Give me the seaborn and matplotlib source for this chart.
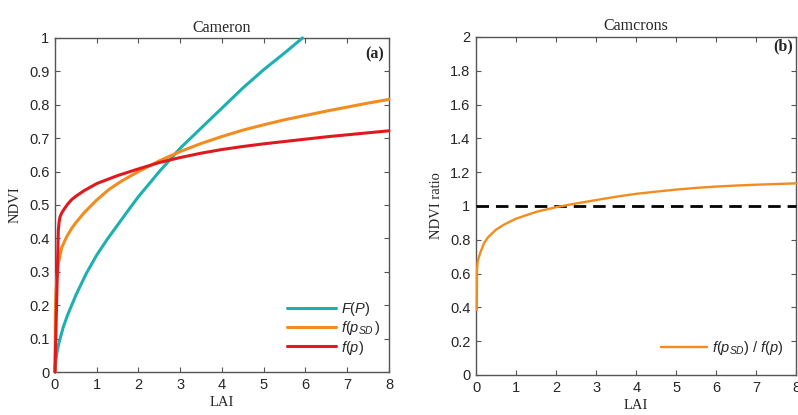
import matplotlib
matplotlib.use("Agg")
import matplotlib.pyplot as plt
import seaborn as sns
import numpy as np
from matplotlib.ticker import FuncFormatter, MultipleLocator

# ---------------- data ----------------
lai_FP = [0, 0.02, 0.05, 0.1, 0.2, 0.3, 0.5, 0.75, 1.0, 1.25, 1.5, 1.75, 2.0,
          2.5, 3.0, 3.5, 4.0, 4.5, 5.0, 5.5, 5.93]
ndvi_FP = [0, 0.035, 0.06, 0.09, 0.135, 0.17, 0.23, 0.295, 0.35, 0.397, 0.44,
           0.483, 0.525, 0.60, 0.67, 0.73, 0.79, 0.85, 0.905, 0.955, 1.0]

lai_fpsd = [0, 0.01, 0.02, 0.04, 0.08, 0.16, 0.28, 0.4, 0.5, 0.7, 1.0, 1.3,
            1.6, 2.0, 2.5, 3.0, 3.5, 4.0, 4.5, 5.0, 5.5, 6.0, 6.5, 7.0, 7.5, 8.0]
ndvi_fpsd = [0, 0.18, 0.23, 0.275, 0.324, 0.372, 0.405, 0.43, 0.447, 0.477,
             0.515, 0.547, 0.572, 0.600, 0.632, 0.66, 0.684, 0.705, 0.724,
             0.74, 0.755, 0.768, 0.781, 0.793, 0.805, 0.816]

lai_fp = [0, 0.08, 0.1, 0.12, 0.16, 0.2, 0.3, 0.4, 0.5, 0.7, 1.0, 1.5, 2.0,
          2.5, 3.0, 3.5, 4.0, 4.5, 5.0, 5.5, 6.0, 6.5, 7.0, 7.5, 8.0]
ndvi_fp = [0, 0.425, 0.45, 0.464, 0.476, 0.484, 0.502, 0.516, 0.526, 0.543,
           0.564, 0.588, 0.608, 0.627, 0.642, 0.655, 0.666, 0.675, 0.683,
           0.69, 0.697, 0.704, 0.71, 0.716, 0.722]

lai_ratio = [0.02, 0.025, 0.04, 0.1, 0.2, 0.3, 0.5, 0.7, 1.0, 1.5, 2.0, 2.5,
             3.0, 3.5, 4.0, 4.5, 5.0, 5.5, 6.0, 6.5, 7.0, 7.5, 8.0]
ndvi_ratio = [0.385, 0.62, 0.67, 0.72, 0.78, 0.815, 0.86, 0.89, 0.925, 0.965,
              0.993, 1.015, 1.035, 1.055, 1.072, 1.085, 1.097, 1.107, 1.115,
              1.121, 1.126, 1.13, 1.134]

ref_level = [1.0, 1.0]
ref_lai = [0, 8]

# ---------------- style ----------------
sns.set_style("white")
plt.rcParams['font.family'] = ['Liberation Sans', 'DejaVu Sans']
plt.rcParams['mathtext.fontset'] = 'custom'
plt.rcParams['mathtext.rm'] = 'Liberation Sans'
plt.rcParams['mathtext.it'] = 'Liberation Sans:italic'

TEAL = '#1DB0B0'
ORANGE = '#F28C1E'
RED = '#E0191E'
SPINE = '#555555'
TXT = '#262626'

fig = plt.figure(figsize=(7.98, 4.15), dpi=100)
axL = fig.add_axes([0.0689, 0.1036, 0.4185, 0.805])
axR = fig.add_axes([0.5965, 0.0964, 0.4016, 0.8145])

kw = dict(estimator=None, sort=False, zorder=3)
sns.lineplot(x=lai_FP, y=ndvi_FP, ax=axL, color=TEAL, lw=2.2,
             label=r'$F(P)$', **kw)
sns.lineplot(x=lai_fpsd, y=ndvi_fpsd, ax=axL, color=ORANGE, lw=2.2,
             label=r'$f(p_{SD}\,)$', **kw)
sns.lineplot(x=lai_fp, y=ndvi_fp, ax=axL, color=RED, lw=2.2,
             label=r'$f(p)$', **kw)

sns.lineplot(x=ref_lai, y=ref_level, ax=axR, color='black', lw=2.0,
             linestyle=(0, (4.5, 2.5)), **kw)
sns.lineplot(x=lai_ratio, y=ndvi_ratio, ax=axR, color=ORANGE, lw=1.7,
             label=r'$f(p_{SD})\ /\ f(p)$', **kw)

for ax in (axL, axR):
    for ln in ax.get_lines():
        ln.set_clip_on(False)

fmt = FuncFormatter(lambda v, p: '%g' % round(v, 6))
serif = ['Liberation Serif', 'DejaVu Serif']

for ax, ymax, ystep in [(axL, 1.0, 0.1), (axR, 2.0, 0.2)]:
    ax.set_xlim(0, 8)
    ax.set_ylim(0, ymax)
    ax.xaxis.set_major_locator(MultipleLocator(1))
    ax.yaxis.set_major_locator(MultipleLocator(ystep))
    ax.xaxis.set_major_formatter(fmt)
    ax.yaxis.set_major_formatter(fmt)
    ax.tick_params(direction='in', length=3.5, width=0.8, colors=SPINE,
                   labelcolor=TXT, labelsize=10.5, top=True, right=True,
                   bottom=True, left=True, pad=4)
    for s in ax.spines.values():
        s.set_color(SPINE)
        s.set_linewidth(1.0)
    ax.set_xlabel('LAI', family=serif, fontsize=10.5, color=TXT, labelpad=3)

axL.set_ylabel('NDVI', family=serif, fontsize=10.5, color=TXT, labelpad=5)
axR.set_ylabel('NDVI ratio', family=serif, fontsize=10.5, color=TXT, labelpad=5)
axL.set_title('Cameron', family=serif, fontsize=11.5, color=TXT, pad=4)
axR.set_title('Camcrons', family=serif, fontsize=11.5, color=TXT, pad=5)

axL.text(0.985, 0.95, '(a)', transform=axL.transAxes, ha='right', va='center',
         family=serif, fontweight='bold', fontsize=11.5)
axR.text(0.99, 0.972, '(b)', transform=axR.transAxes, ha='right', va='center',
         family=serif, fontweight='bold', fontsize=11.5)

axL.legend(loc='lower right', bbox_to_anchor=(1.0, 0.02), frameon=False,
           fontsize=10.5, handlelength=3.4, handletextpad=0.3, labelspacing=0.1,
           borderaxespad=0.2)
axR.legend(loc='lower right', bbox_to_anchor=(1.0, 0.015), frameon=False,
           fontsize=10.5, handlelength=3.2, handletextpad=0.3)

fig.savefig('out.png', dpi=100)
